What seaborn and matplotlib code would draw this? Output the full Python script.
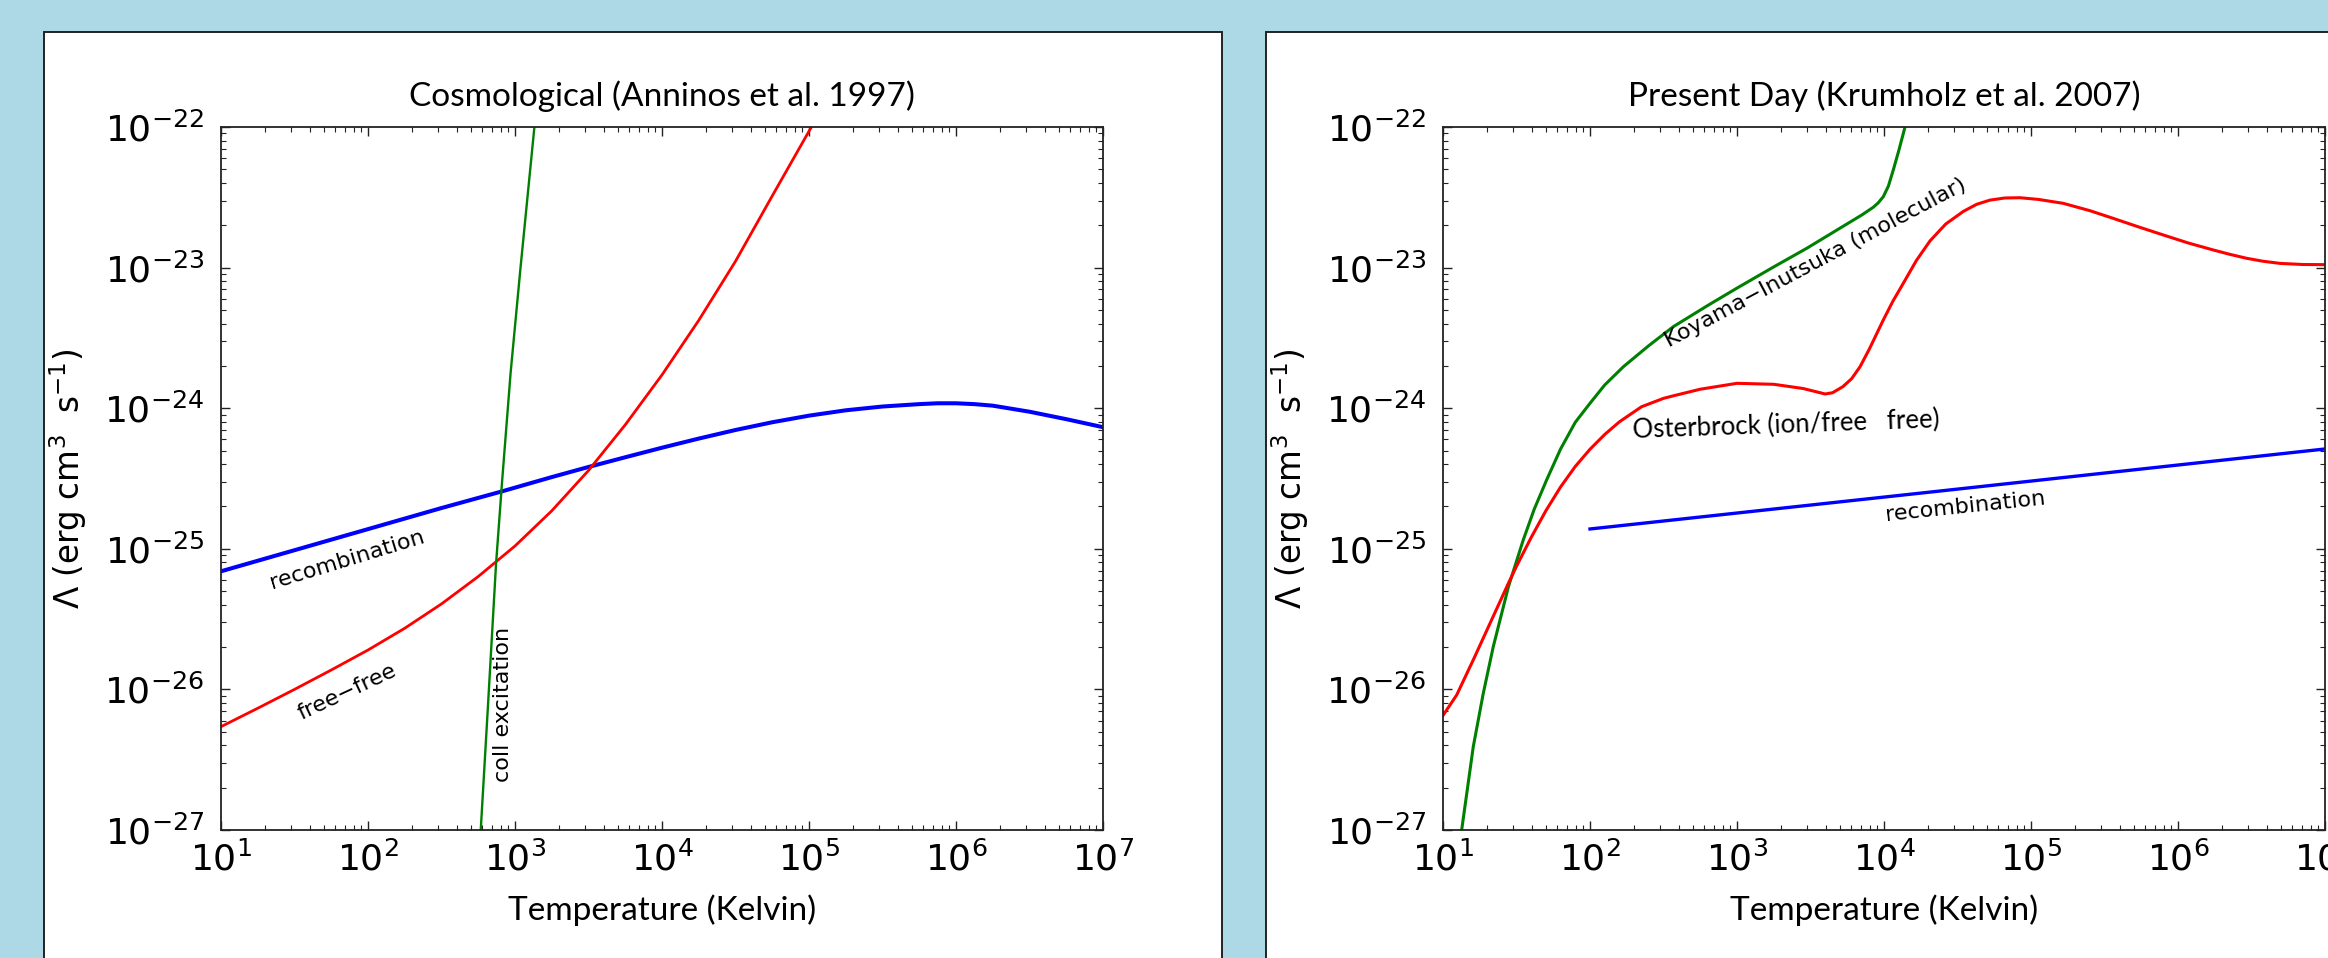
import numpy as np
import matplotlib
matplotlib.use('Agg')
import matplotlib.pyplot as plt
import seaborn as sns
from matplotlib.patches import Rectangle
from matplotlib.ticker import LogLocator, NullFormatter

# values, stored as log10(T [K]) and log10(Lambda [erg cm^3 s^-1])
cosmo_rec_logT = [1.0, 1.5, 2.0, 2.5, 2.903, 3.0, 3.25, 3.5, 3.75, 4.0, 4.25, 4.5, 4.75, 5.0, 5.25, 5.5,
                  5.75, 5.875, 6.0, 6.125, 6.25, 6.5, 6.75, 7.0]
cosmo_rec_logL = [-25.16, -25.01, -24.86, -24.71, -24.594, -24.565, -24.49, -24.418, -24.349, -24.281, -24.216, -24.155, -24.1, -24.053, -24.015, -23.988,
                  -23.971, -23.965, -23.965, -23.971, -23.982, -24.025, -24.078, -24.135]

cosmo_ff_logT = [1.0, 1.25, 1.5, 1.75, 2.0, 2.25, 2.5, 2.75, 3.0, 3.25, 3.5, 3.75, 4.0, 4.25, 4.5, 4.75, 5.0, 5.05]
cosmo_ff_logL = [-26.265, -26.134, -26.0, -25.862, -25.72, -25.565, -25.392, -25.197, -24.98, -24.73, -24.443, -24.118, -23.763, -23.375, -22.955, -22.49, -22.03, -21.94]

cosmo_coll_logT = [2.767, 2.817, 2.871, 2.913, 2.97, 3.036, 3.132]
cosmo_coll_logL = [-27.0, -26.1, -25.108, -24.51, -23.75, -23.017, -22.0]

today_ki_logT = [1.127, 1.206, 1.274, 1.342, 1.445, 1.546, 1.62, 1.705, 1.8, 1.9, 2.0, 2.1, 2.227, 2.4, 2.567, 2.8, 2.998,
                 3.25, 3.474, 3.7, 3.85, 3.927, 3.96, 3.995, 4.03, 4.063, 4.1, 4.143]
today_ki_logL = [-27.0, -26.407, -26.028, -25.696, -25.27, -24.937, -24.72, -24.51, -24.29, -24.10, -23.965, -23.835, -23.705, -23.555, -23.42, -23.27, -23.147,
                 -22.995, -22.863, -22.72, -22.625, -22.571, -22.54, -22.496, -22.42, -22.306, -22.17, -22.0]

today_ost_logT = [1.002, 1.093, 1.206, 1.32, 1.445, 1.5, 1.6, 1.7, 1.8, 1.9, 2.0, 2.1, 2.2, 2.35, 2.5, 2.567, 2.75, 3.0,
                  3.25, 3.45, 3.6, 3.65, 3.72, 3.78, 3.837, 3.9, 3.995, 4.06, 4.131, 4.22, 4.313, 4.42, 4.54, 4.63,
                  4.721, 4.82, 4.925, 5.05, 5.22, 5.4, 5.56, 5.73, 5.9, 6.07, 6.241, 6.35, 6.468, 6.58, 6.694, 6.85, 6.993]
today_ost_logL = [-26.182, -26.04, -25.79, -25.53, -25.245, -25.124, -24.919, -24.729, -24.56, -24.414, -24.292, -24.187, -24.097, -23.99, -23.93, -23.912, -23.865, -23.823,
                  -23.83, -23.86, -23.899, -23.89, -23.847, -23.79, -23.705, -23.58, -23.373, -23.24, -23.112, -22.95, -22.81, -22.69, -22.6, -22.55,
                  -22.52, -22.505, -22.503, -22.515, -22.543, -22.595, -22.65, -22.71, -22.768, -22.825, -22.875, -22.905, -22.934, -22.955, -22.97, -22.978, -22.979]

today_rec_logT = [2.0, 4.381, 7.0]
today_rec_logL = [-24.859, -24.589, -24.29]

W, H = 2328, 958
fig = plt.figure(figsize=(W / 100, H / 100), dpi=100, facecolor='lightblue')

# white slide panels behind the two plots
for x0, x1 in [(44, 1222), (1266, 2500)]:
    fig.patches.append(Rectangle((x0 / W, -0.1), (x1 - x0) / W, (H - 32) / H + 0.1,
                                 transform=fig.transFigure, facecolor='white',
                                 edgecolor='#222222', lw=1.4, zorder=-5))

ax_l = fig.add_axes([221 / W, 128 / H, 882 / W, 703 / H], zorder=2)
ax_r = fig.add_axes([1443 / W, 128 / H, 882 / W, 703 / H], zorder=2)


def curve(ax, logT, logL, color, lw):
    sns.lineplot(x=10 ** np.array(logT), y=10 ** np.array(logL), ax=ax,
                 color=color, lw=lw, estimator=None, sort=False)


curve(ax_l, cosmo_rec_logT, cosmo_rec_logL, 'b', 2.9)
curve(ax_l, cosmo_ff_logT, cosmo_ff_logL, 'r', 2.0)
curve(ax_l, cosmo_coll_logT, cosmo_coll_logL, 'g', 1.7)

curve(ax_r, today_ki_logT, today_ki_logL, 'g', 2.2)
curve(ax_r, today_ost_logT, today_ost_logL, 'r', 2.2)
curve(ax_r, today_rec_logT, today_rec_logL, 'b', 2.4)

for ax in (ax_l, ax_r):
    ax.set_xscale('log')
    ax.set_yscale('log')
    ax.set_xlim(1e1, 1e7)
    ax.set_ylim(1e-27, 1e-22)
    ax.xaxis.set_major_locator(LogLocator(base=10, numticks=20))
    ax.yaxis.set_major_locator(LogLocator(base=10, numticks=20))
    ax.xaxis.set_minor_formatter(NullFormatter())
    ax.yaxis.set_minor_formatter(NullFormatter())
    ax.tick_params(which='both', direction='in', top=True, right=True, color='#222222')
    ax.tick_params(which='major', length=6.5, width=1.0, labelsize=26)
    ax.tick_params(which='minor', length=3.5, width=0.8)
    ax.tick_params(axis='x', pad=8)
    ax.tick_params(axis='y', pad=12)
    for sp in ax.spines.values():
        sp.set_linewidth(1.3)
        sp.set_color('#222222')
    ax.set_xlabel('Temperature (Kelvin)', family='Lato', fontsize=24)
    ax.set_ylabel(r'$\Lambda$ (erg cm$^3$  s$^{-1}$)', fontsize=23.5)
    ax.xaxis.set_label_coords(0.5, -0.092)
    ax.yaxis.set_label_coords(-0.15, 0.5)

ax_l.set_title('Cosmological (Anninos et al. 1997)', family='Lato', fontsize=24, pad=15)
ax_r.set_title('Present Day (Krumholz et al. 2007)', family='Lato', fontsize=24, pad=15)

ann = dict(ha='center', va='center', rotation_mode='anchor', fontsize=16, family='DejaVu Sans')
ax_l.text(10 ** 1.855, 10 ** -25.075, 'recombination', rotation=17, **ann)
ax_l.text(10 ** 1.855, 10 ** -26.016, 'free\u2212free', rotation=25, **ann)
ax_l.text(10 ** 2.92, 10 ** -26.11, 'coll excitation', rotation=90, **ann)

ax_r.text(10 ** 3.537, 10 ** -22.967, 'Koyama\u2212Inutsuka (molecular)', rotation=28, **ann)
ax_r.text(10 ** 4.551, 10 ** -24.70, 'recombination', rotation=6, **ann)
ax_r.text(10 ** 3.331, 10 ** -24.12, 'Osterbrock (ion/free   free)', rotation=2,
          ha='center', va='center', rotation_mode='anchor', fontsize=18.5, family='Lato')

fig.savefig('out.png', dpi=100, facecolor=fig.get_facecolor())
